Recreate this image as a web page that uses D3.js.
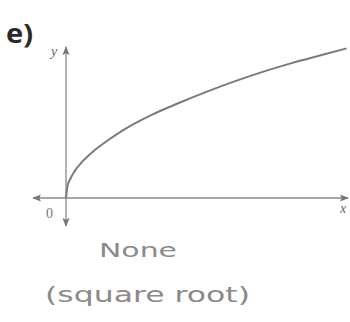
<!DOCTYPE html>
<html>
<head>
<meta charset="utf-8">
<script src="https://cdn.jsdelivr.net/npm/d3@7"></script>
<style>
  body { margin: 0; background: #fff; }
  svg { display: block; }
</style>
</head>
<body>
<div id="canvas"></div>
<script>
// points (x, y) in graph units
var curveX = [0, 0.05, 0.15, 0.3, 0.6, 1, 1.5, 2, 3, 4, 5, 6, 7, 8, 9, 9.95];
var curveY = [0, 0.24, 0.4, 0.56, 0.78, 1.0, 1.22, 1.42, 1.74, 2.0, 2.24, 2.46, 2.66, 2.84, 3.0, 3.15];
var partLabel = "e)";
var answerLines = ["None", "(square root)"];

function init() {
    var svg = d3.select("#canvas").append("svg")
        .attr("width", 350)
        .attr("height", 322);

    var x = d3.scaleLinear().domain([0, 10]).range([66, 348]);
    var y = d3.scaleLinear().domain([0, 3.2]).range([198, 46]);

    var defs = svg.append("defs");
    defs.append("marker")
        .attr("id", "arrow")
        .attr("viewBox", "0 0 10 10")
        .attr("refX", 9)
        .attr("refY", 5)
        .attr("markerWidth", 9)
        .attr("markerHeight", 9)
        .attr("markerUnits", "userSpaceOnUse")
        .attr("orient", "auto-start-reverse")
        .append("path")
        .attr("d", "M0,1 L10,5 L0,9 L2,5 Z")
        .style("fill", "#777");

    // part label
    svg.append("text")
        .attr("x", 6)
        .attr("y", 43)
        .attr("font-family", "Open Sans, sans-serif")
        .attr("font-weight", "bold")
        .attr("font-size", 27)
        .attr("textLength", 27)
        .attr("lengthAdjust", "spacingAndGlyphs")
        .style("fill", "#2a2a2a")
        .text(partLabel);

    // x axis (arrows both ends)
    svg.append("line")
        .attr("x1", 33)
        .attr("y1", y(0))
        .attr("x2", 348)
        .attr("y2", y(0))
        .attr("stroke", "#888")
        .attr("stroke-width", 1.3)
        .attr("marker-start", "url(#arrow)")
        .attr("marker-end", "url(#arrow)");

    // y axis
    svg.append("line")
        .attr("x1", x(0))
        .attr("y1", 226)
        .attr("x2", x(0))
        .attr("y2", 47)
        .attr("stroke", "#888")
        .attr("stroke-width", 1.3)
        .attr("marker-start", "url(#arrow)")
        .attr("marker-end", "url(#arrow)");

    // axis labels
    svg.append("text")
        .attr("x", 51)
        .attr("y", 56)
        .attr("font-family", "Liberation Serif, serif")
        .attr("font-style", "italic")
        .attr("font-size", 14)
        .style("fill", "#666")
        .text("y");
    svg.append("text")
        .attr("x", 46)
        .attr("y", 218)
        .attr("font-family", "Liberation Serif, serif")
        .attr("font-size", 14)
        .style("fill", "#777")
        .text("0");
    svg.append("text")
        .attr("x", 340)
        .attr("y", 213)
        .attr("font-family", "Liberation Serif, serif")
        .attr("font-style", "italic")
        .attr("font-size", 14)
        .style("fill", "#666")
        .text("x");

    // the curve
    var pts = curveX.map(function (d, i) { return [d, curveY[i]]; });
    var line = d3.line()
        .x(function (d) { return x(d[0]); })
        .y(function (d) { return y(d[1]); })
        .curve(d3.curveMonotoneX);
    svg.append("path")
        .datum(pts)
        .attr("d", line)
        .attr("fill", "none")
        .attr("stroke", "#7a7a7a")
        .attr("stroke-width", 2);

    // handwritten answer
    svg.append("text")
        .attr("x", 99)
        .attr("y", 257)
        .attr("font-family", "DejaVu Sans, sans-serif")
        .attr("font-size", 20)
        .attr("textLength", 78)
        .attr("lengthAdjust", "spacingAndGlyphs")
        .style("fill", "#8a8a8a")
        .text(answerLines[0]);
    svg.append("text")
        .attr("x", 45)
        .attr("y", 302)
        .attr("font-family", "DejaVu Sans, sans-serif")
        .attr("font-size", 21)
        .attr("textLength", 205)
        .attr("lengthAdjust", "spacingAndGlyphs")
        .style("fill", "#8a8a8a")
        .text(answerLines[1]);
}
window.onload = init;
</script>
</body>
</html>
